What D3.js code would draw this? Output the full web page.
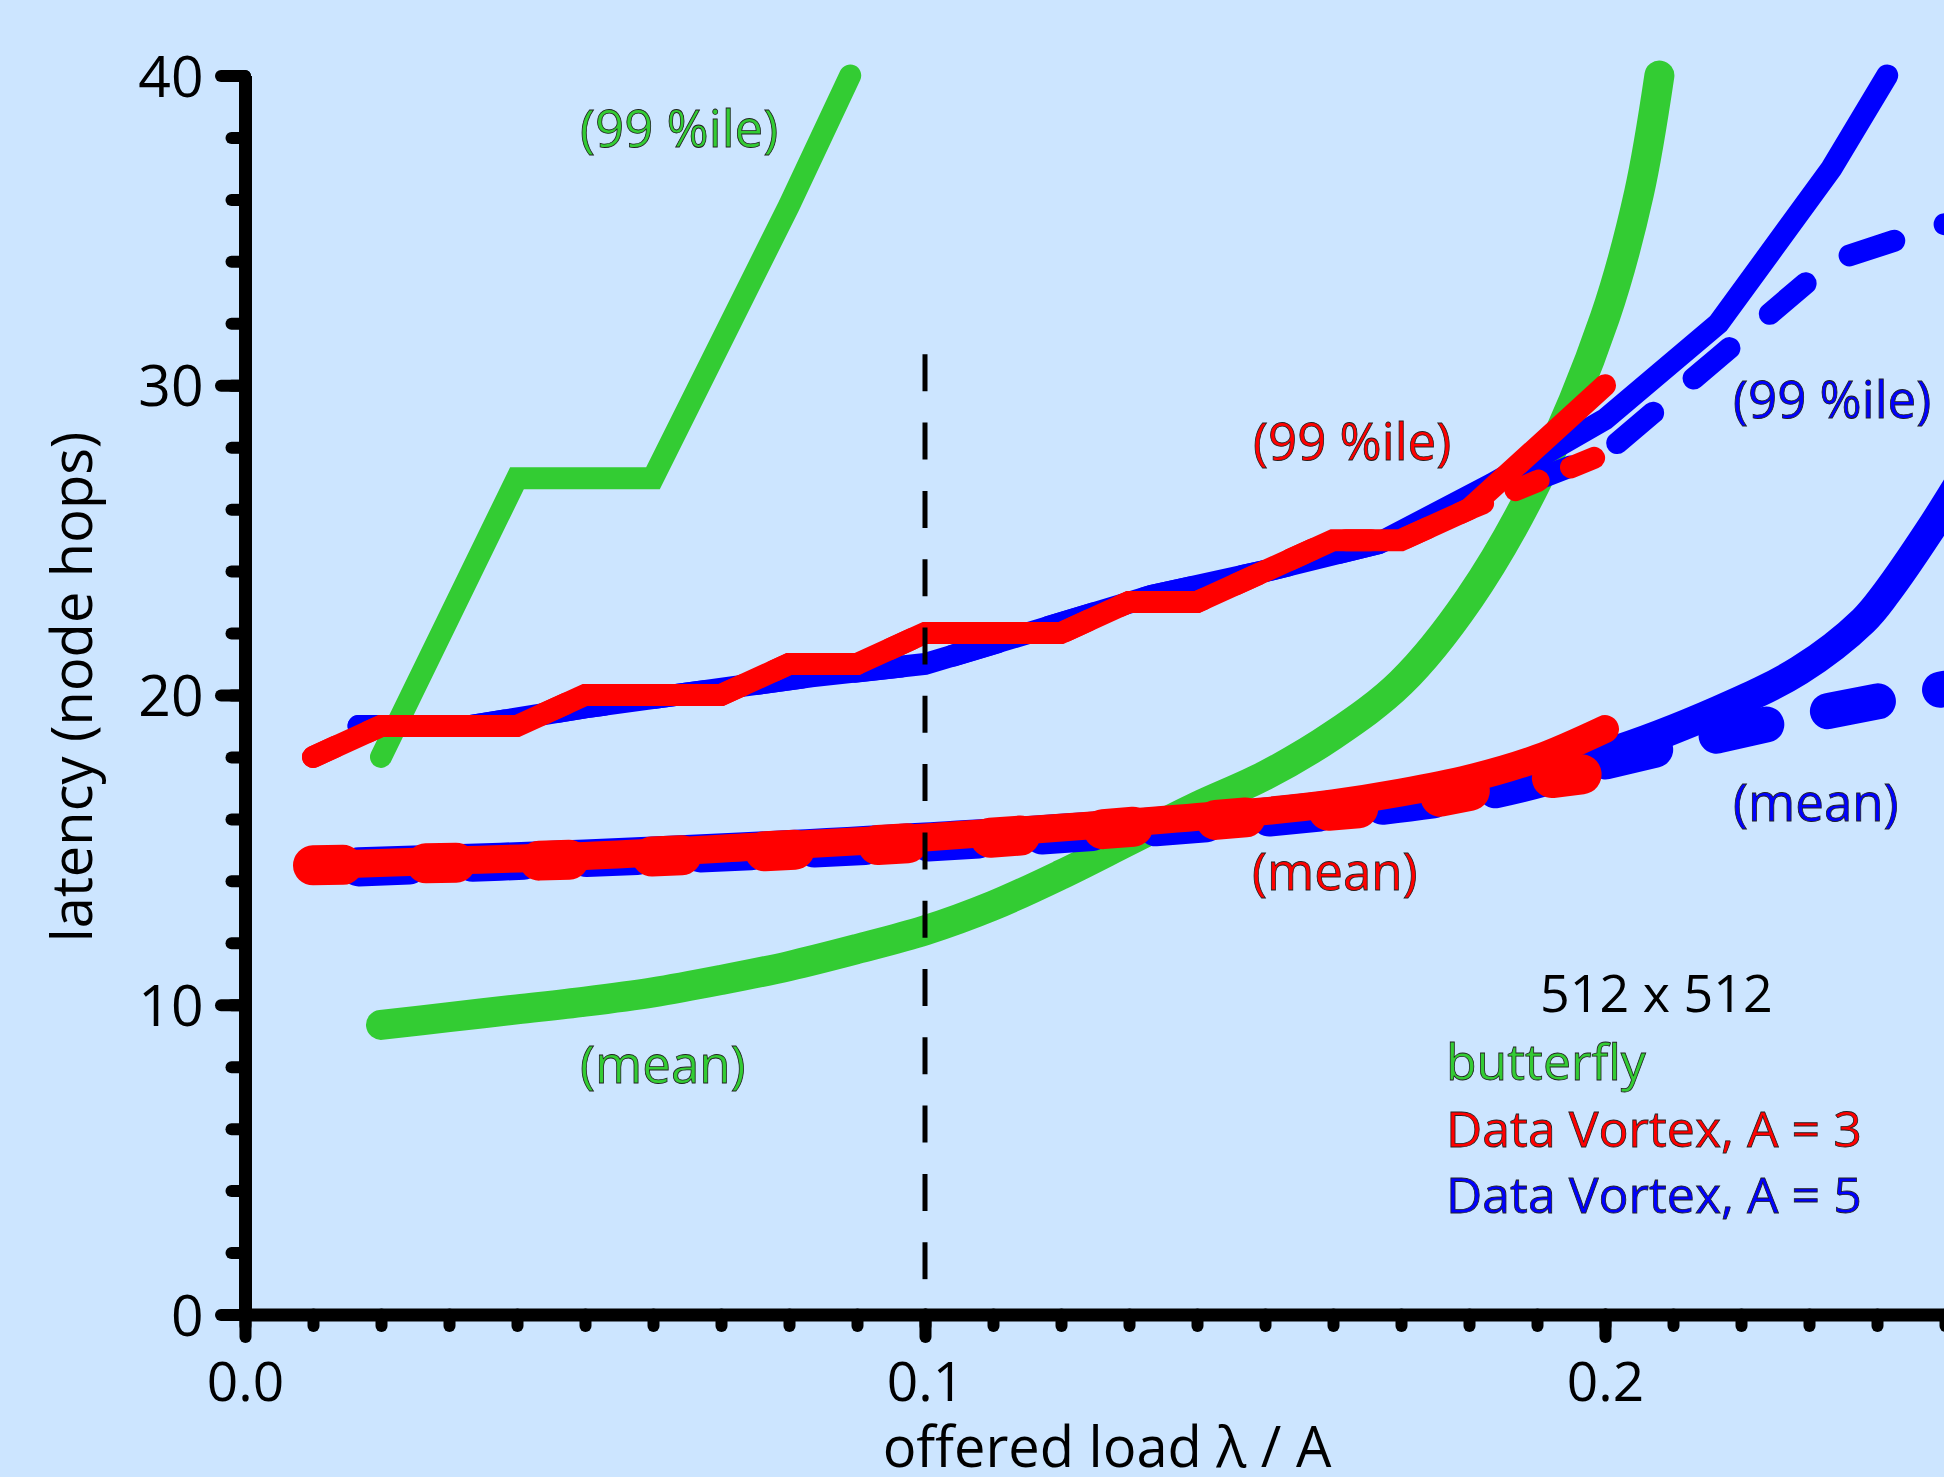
<!DOCTYPE html>
<html>
<head>
<meta charset="utf-8">
<script src="https://cdnjs.cloudflare.com/ajax/libs/d3/7.8.5/d3.min.js"></script>
<style>
body { margin: 0; background: #cce5ff; }
svg { display: block; }
text { font-family: "Open Sans", "Noto Sans", sans-serif; }
</style>
</head>
<body>
<svg id="chart" width="1944" height="1477"></svg>
<script>
// values: x = offered load (lambda / A), y = latency in node hops

// butterfly
bflyX99 = [0.02, 0.04, 0.06, 0.08, 0.089];
bflyY99 = [18, 27, 27, 35.8, 40];
bflyXMean = [0.02, 0.03, 0.04, 0.05, 0.06, 0.07, 0.08, 0.09, 0.10, 0.11, 0.12, 0.13, 0.14, 0.15, 0.16, 0.17, 0.18, 0.19, 0.20, 0.205, 0.208];
bflyYMean = [9.35, 9.6, 9.85, 10.1, 10.4, 10.8, 11.25, 11.8, 12.4, 13.2, 14.2, 15.3, 16.4, 17.4, 18.7, 20.4, 23.1, 26.9, 32.2, 36.2, 40];

// Data Vortex, A = 3
dv3X99 = [0.01, 0.02, 0.04, 0.05, 0.07, 0.08, 0.09, 0.10, 0.12, 0.13, 0.14, 0.16, 0.17, 0.18, 0.20];
dv3Y99 = [18, 19, 19, 20, 20, 21, 21, 22, 22, 23, 23, 25, 25, 26, 30];
dv3X99b = [0.01, 0.02, 0.04, 0.05, 0.07, 0.08, 0.09, 0.10, 0.12, 0.13, 0.14, 0.16, 0.17, 0.18, 0.19, 0.20];
dv3Y99b = [18, 19, 19, 20, 20, 21, 21, 22, 22, 23, 23, 25, 25, 26, 26.9, 27.8];
dv3XMean = [0.01, 0.03, 0.05, 0.075, 0.10, 0.125, 0.15, 0.16, 0.17, 0.18, 0.19, 0.20];
dv3YMean = [14.5, 14.65, 14.8, 15.1, 15.4, 15.8, 16.25, 16.5, 16.85, 17.3, 17.95, 18.9];
dv3XMeanb = [0.01, 0.05, 0.10, 0.15, 0.17, 0.185, 0.197];
dv3YMeanb = [14.5, 14.7, 15.25, 16.1, 16.5, 17.1, 17.45];

// Data Vortex, A = 5
dv5X99 = [0.0167, 0.0333, 0.05, 0.0667, 0.0833, 0.10, 0.1167, 0.1333, 0.15, 0.1667, 0.1833, 0.20, 0.2167, 0.2333, 0.2415];
dv5Y99 = [19, 19, 19.6, 20.1, 20.6, 21, 22.1, 23.2, 24.0, 24.9, 26.8, 28.9, 32.0, 37.0, 40];
dv5X99b = [0.0167, 0.0333, 0.05, 0.0667, 0.0833, 0.10, 0.1167, 0.1333, 0.15, 0.1667, 0.1833, 0.20, 0.2167, 0.2333, 0.25];
dv5Y99b = [19, 19, 19.6, 20.1, 20.6, 21, 22.1, 23.2, 24.0, 24.9, 26.4, 27.8, 30.9, 34.0, 35.2];
dv5XMean = [0.0167, 0.05, 0.10, 0.15, 0.1833, 0.20, 0.2167, 0.2286, 0.238, 0.2414, 0.2477, 0.252];
dv5YMean = [14.6, 14.85, 15.4, 16.2, 17.2, 18.1, 19.5, 20.8, 22.4, 23.3, 25.3, 26.8];
dv5XMeanb = [0.0167, 0.05, 0.10, 0.15, 0.1833, 0.20, 0.2167, 0.2333, 0.25];
dv5YMeanb = [14.4, 14.7, 15.2, 16.0, 16.9, 17.85, 18.7, 19.5, 20.2];

xTickLabels = [0, 0.1, 0.2];
yTickLabels = [0, 10, 20, 30, 40];
legendTitle = "512 x 512";
legendNames = ["butterfly", "Data Vortex, A = 3", "Data Vortex, A = 5"];
curveTags = ["(99 %ile)", "(mean)"];
markerLoad = 0.1;

green = "#33cc33";
red = "#ff0000";
blue = "#0000ff";

width = 1944;
height = 1477;
svg = d3.select("#chart");

svg.append("rect")
    .attr("width", width)
    .attr("height", height)
    .attr("fill", "#cce5ff");

x = d3.scaleLinear().domain([0, 0.25]).range([245, 1945]);
y = d3.scaleLinear().domain([0, 40]).range([1314.5, 75.5]);

function pairs(xs, ys) {
    return xs.map((v, i) => [v, ys[i]]);
}

// bottom layer first: green, then blue, red on top
series = [
    {pts: pairs(bflyXMean, bflyYMean), color: green, w: 30, smooth: true},
    {pts: pairs(bflyX99, bflyY99), color: green, w: 22},
    {pts: pairs(dv5XMeanb, dv5YMeanb), color: blue, w: 36, dash: "51,63", smooth: true},
    {pts: pairs(dv5XMean, dv5YMean), color: blue, w: 30, smooth: true},
    {pts: pairs(dv5X99b, dv5Y99b), color: blue, w: 22, dash: "47,53"},
    {pts: pairs(dv5X99, dv5Y99), color: blue, w: 22},
    {pts: pairs(dv3X99b, dv3Y99b), color: red, w: 22, dash: "25,35"},
    {pts: pairs(dv3X99, dv3Y99), color: red, w: 22},
    {pts: pairs(dv3XMean, dv3YMean), color: red, w: 28, smooth: true},
    {pts: pairs(dv3XMeanb, dv3YMeanb), color: red, w: 40, dash: "30,83", smooth: true}
];

series.forEach(s => {
    line = d3.line()
        .x(d => x(d[0]))
        .y(d => y(d[1]))
        .curve(s.smooth ? d3.curveCatmullRom.alpha(0.5) : d3.curveLinear);
    svg.append("path")
        .datum(s.pts)
        .attr("d", line)
        .attr("fill", "none")
        .attr("stroke", s.color)
        .attr("stroke-width", s.w)
        .attr("stroke-linecap", "round")
        .attr("stroke-linejoin", s.smooth ? "round" : "miter")
        .attr("stroke-dasharray", s.dash || null);
});

// dashed marker at lambda/A = 0.1
svg.append("line")
    .attr("x1", x(markerLoad)).attr("x2", x(markerLoad))
    .attr("y1", y(31)).attr("y2", y(1))
    .attr("stroke", "black")
    .attr("stroke-width", 5)
    .attr("stroke-dasharray", "37,31.3");

// axes: minor ticks, then major ticks with labels
xMinor = svg.append("g")
    .attr("transform", `translate(0,${y(0)})`)
    .call(d3.axisBottom(x).ticks(25).tickSize(11.5).tickSizeOuter(0).tickFormat(""));
yMinor = svg.append("g")
    .attr("transform", `translate(${x(0)},0)`)
    .call(d3.axisLeft(y).ticks(20).tickSize(13.5).tickSizeOuter(0).tickFormat(""));
[xMinor, yMinor].forEach(g => g.select(".domain").remove());

xMajor = svg.append("g")
    .attr("transform", `translate(0,${y(0)})`)
    .call(d3.axisBottom(x).tickValues(xTickLabels).tickSize(22.5).tickSizeOuter(0).tickFormat(d3.format(".1f")));
yMajor = svg.append("g")
    .attr("transform", `translate(${x(0)},0)`)
    .call(d3.axisLeft(y).tickValues(yTickLabels).tickSize(24).tickSizeOuter(0).tickPadding(17.5));

[xMinor, yMinor, xMajor, yMajor].forEach(g => {
    g.attr("color", "black");
    g.selectAll(".tick line")
        .attr("stroke-width", 12)
        .attr("stroke-linecap", "round");
});
[xMajor, yMajor].forEach(g => {
    g.select(".domain").attr("stroke-width", 13);
});

xMajor.attr("font-size", 55).attr("font-family", "'Open Sans', sans-serif");
xMajor.selectAll(".tick text").attr("y", 86.5).attr("dy", "0");
yMajor.attr("font-size", 57).attr("font-family", "'Open Sans', sans-serif");
yMajor.selectAll(".tick text").attr("dy", "0.36em");

// axis titles
svg.append("text")
    .attr("x", 1107)
    .attr("y", 1467)
    .attr("text-anchor", "middle")
    .attr("font-size", 56)
    .text("offered load \u03bb / A");

svg.append("text")
    .attr("transform", "translate(92,687) rotate(-90)")
    .attr("text-anchor", "middle")
    .attr("font-size", 56)
    .text("latency (node hops)");

// curve tags next to each family
tags = [
    {t: curveTags[0], c: green, x: 580, y: 147},
    {t: curveTags[1], c: green, x: 580, y: 1083},
    {t: curveTags[0], c: red, x: 1253, y: 460},
    {t: curveTags[1], c: red, x: 1252, y: 890},
    {t: curveTags[0], c: blue, x: 1733, y: 418},
    {t: curveTags[1], c: blue, x: 1733, y: 821}
];
svg.selectAll("text.tag")
    .data(tags)
    .enter().append("text")
    .attr("class", "tag")
    .attr("x", d => d.x)
    .attr("y", d => d.y)
    .attr("font-size", 51)
    .attr("fill", d => d.c)
    .attr("stroke", "#222")
    .attr("stroke-width", 0.8)
    .text(d => d.t);

// legend block
svg.append("text")
    .attr("x", 1540)
    .attr("y", 1012)
    .attr("font-size", 52)
    .attr("fill", "black")
    .text(legendTitle);

svg.selectAll("text.legend")
    .data(legendNames)
    .enter().append("text")
    .attr("class", "legend")
    .attr("x", 1446)
    .attr("y", (d, i) => [1080, 1147, 1213][i])
    .attr("font-size", 50)
    .attr("fill", (d, i) => [green, red, blue][i])
    .attr("stroke", "#222")
    .attr("stroke-width", 0.8)
    .text(d => d);
</script>
</body>
</html>
